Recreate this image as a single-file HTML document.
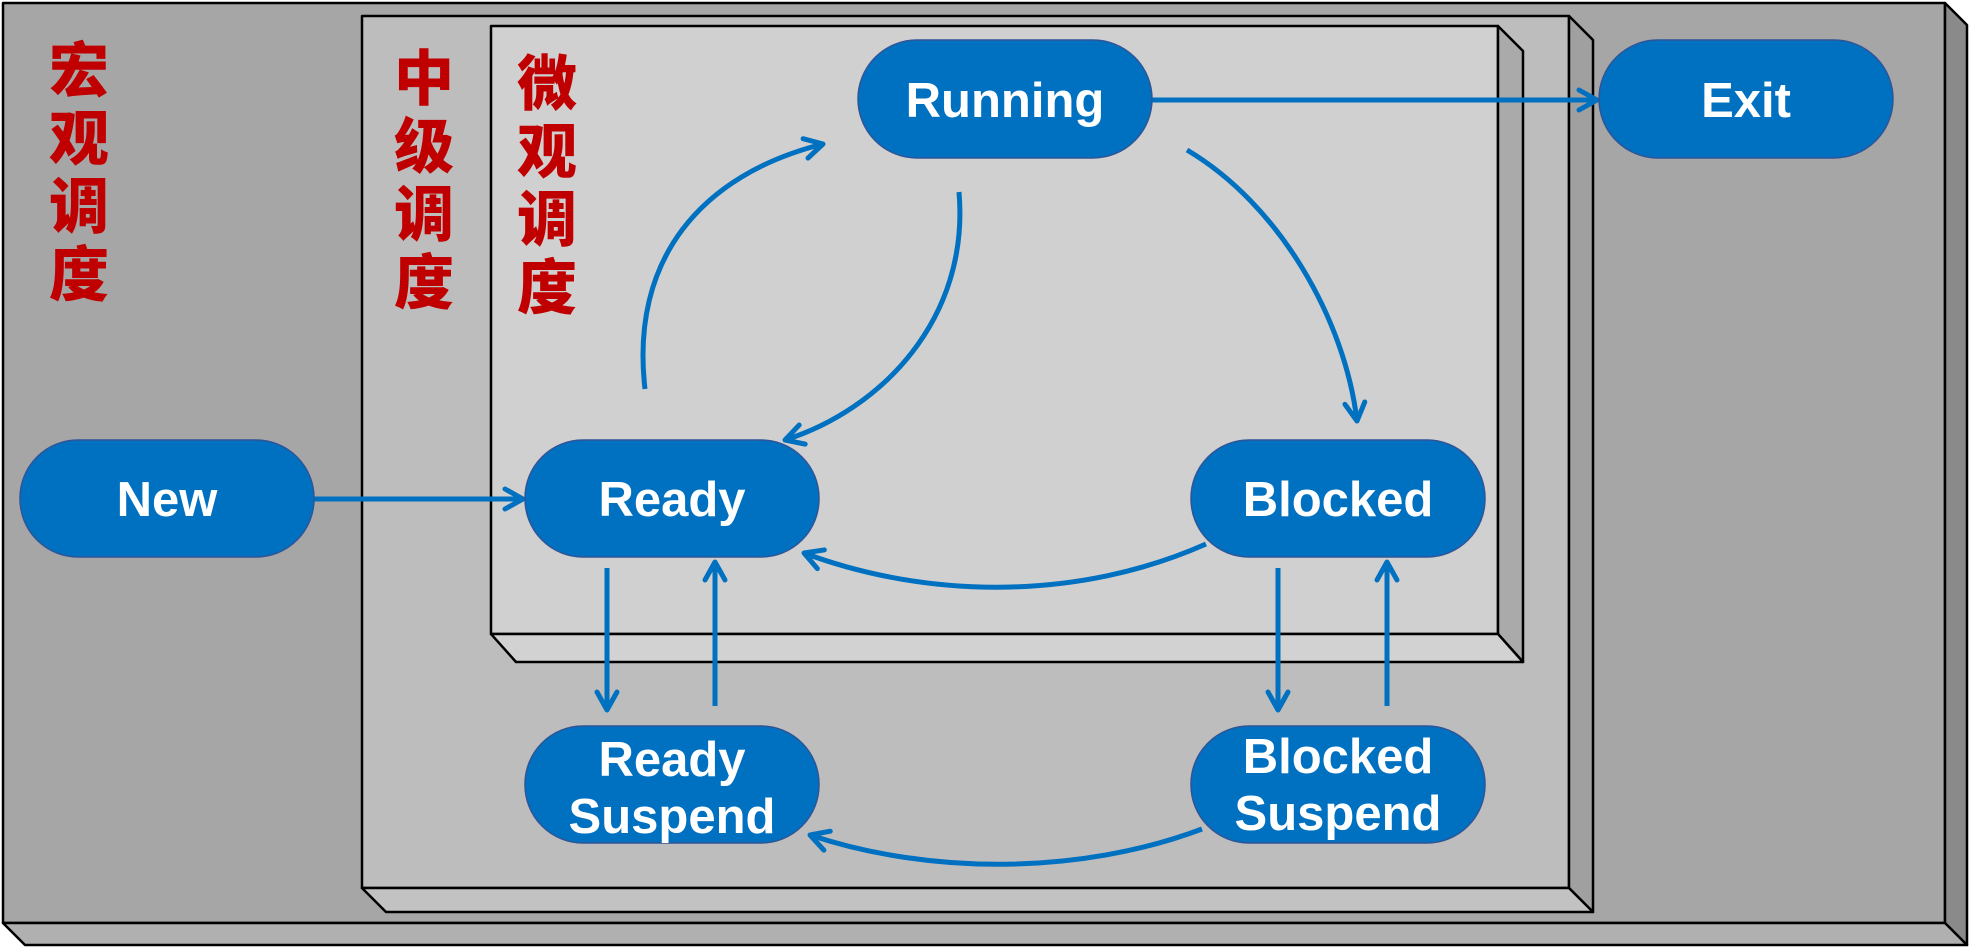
<!DOCTYPE html>
<html><head><meta charset="utf-8"><style>
html,body{margin:0;padding:0;background:#fff;}
svg{display:block;}
.n{font-family:"Liberation Sans",sans-serif;font-weight:bold;font-size:49px;fill:#fff;text-anchor:middle;}
.c{font-family:"Liberation Sans","Noto Sans CJK SC",sans-serif;font-weight:900;font-size:60px;fill:#c00000;text-anchor:middle;}
</style></head><body>
<svg width="1970" height="947" viewBox="0 0 1970 947" xmlns="http://www.w3.org/2000/svg">
<defs>
<marker id="a" viewBox="0 0 24 24" refX="21" refY="12" markerWidth="24" markerHeight="24" markerUnits="userSpaceOnUse" orient="auto" overflow="visible">
<path d="M3,2 L21,12 L3,22" fill="none" stroke="#0070c0" stroke-width="5" stroke-linecap="round" stroke-linejoin="round"/>
</marker>
</defs>
<g stroke="#000" stroke-width="2.5" stroke-linejoin="round">
<rect x="3" y="3" width="1942" height="920" fill="#a6a6a6"/>
<polygon points="1945,3 1967,25 1967,945 1945,923" fill="#8a8a8a"/>
<polygon points="3,923 1945,923 1967,945 25,945" fill="#b0b0b0"/>
<rect x="362" y="16" width="1207" height="872" fill="#bdbdbd"/>
<polygon points="1569,16 1593,40 1593,912 1569,888" fill="#a0a0a0"/>
<polygon points="362,888 1569,888 1593,912 386,912" fill="#c2c2c2"/>
<rect x="491" y="26" width="1007" height="608" fill="#d0d0d0"/>
<polygon points="1498,26 1523,51 1523,662 1498,634" fill="#aaaaaa"/>
<polygon points="491,634 1498,634 1523,662 516,662" fill="#d2d2d2"/>
</g>
<g class="c">
<text x="79" y="92" class="c">宏</text><text x="79" y="160" class="c">观</text><text x="79" y="228" class="c">调</text><text x="79" y="296" class="c">度</text>
<text x="424" y="100" class="c">中</text><text x="424" y="168" class="c">级</text><text x="424" y="236" class="c">调</text><text x="424" y="304" class="c">度</text>
<text x="547" y="105" class="c">微</text><text x="547" y="173" class="c">观</text><text x="547" y="241" class="c">调</text><text x="547" y="309" class="c">度</text>
</g>
<g fill="none" stroke="#0070c0" stroke-width="5" marker-end="url(#a)">
<path d="M1152,100 L1597,100"/>
<path d="M314,499 L523,499"/>
<path d="M645,389 C630,260 700,175 823,144"/>
<path d="M959,192 C970,320 880,410 785,440"/>
<path d="M1187,150 C1280,205 1345,320 1357,421"/>
<path d="M1206,544 C1080,600 930,600 804,553"/>
<path d="M607,568 L607,710"/>
<path d="M715,706 L715,562"/>
<path d="M1278,568 L1278,710"/>
<path d="M1387,706 L1387,562"/>
<path d="M1202,829 C1080,875 930,875 810,835"/>
</g>
<g fill="#0070c0" stroke="#2f5597" stroke-width="1.5">
<rect x="858" y="40" width="294" height="118" rx="59"/>
<rect x="1599" y="40" width="294" height="118" rx="59"/>
<rect x="20" y="440" width="294" height="117" rx="58"/>
<rect x="525" y="440" width="294" height="117" rx="58"/>
<rect x="1191" y="440" width="294" height="117" rx="58"/>
<rect x="525" y="726" width="294" height="117" rx="58"/>
<rect x="1191" y="726" width="294" height="117" rx="58"/>
</g>
<g class="n">
<text x="1005" y="117">Running</text>
<text x="1746" y="117">Exit</text>
<text x="167" y="516">New</text>
<text x="672" y="516">Ready</text>
<text x="1338" y="516">Blocked</text>
<text x="672" y="776">Ready</text>
<text x="672" y="833">Suspend</text>
<text x="1338" y="773">Blocked</text>
<text x="1338" y="830">Suspend</text>
</g>
</svg>
</body></html>
